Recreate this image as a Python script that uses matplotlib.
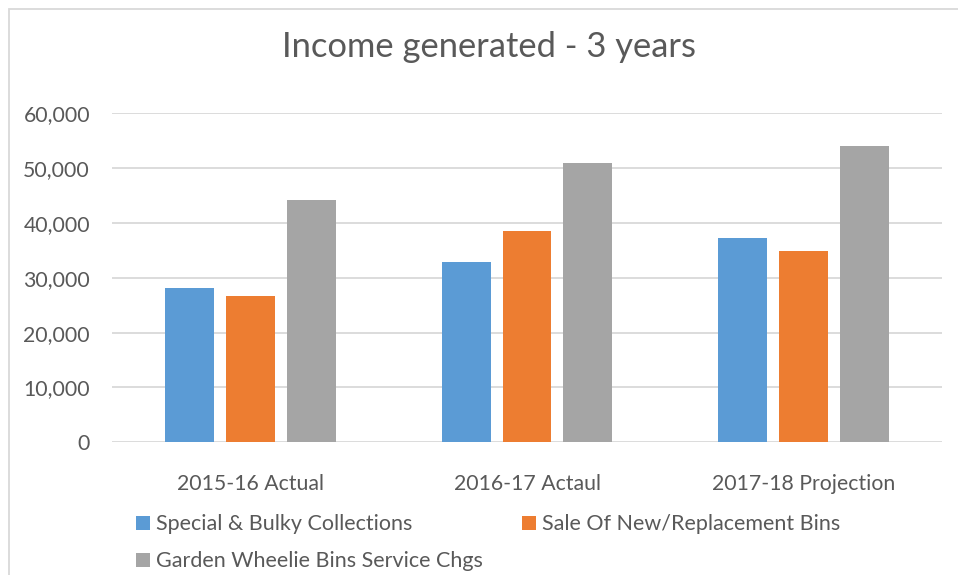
import matplotlib.pyplot as plt
import numpy as np
from matplotlib.patches import Rectangle, Patch

# data
categories = ['2015-16 Actual', '2016-17 Actaul', '2017-18 Projection']
series_names = ['Special & Bulky Collections', 'Sale Of New/Replacement Bins',
                'Garden Wheelie Bins Service Chgs']
special_bulky = [28150, 32900, 37250]
sale_bins = [26700, 38550, 34900]
garden_bins = [44200, 50950, 54050]
yticks = [0, 10000, 20000, 30000, 40000, 50000, 60000]

colors = ['#5B9BD5', '#ED7D31', '#A5A5A5']
txt = '#595959'
font = 'Lato'

W, H = 958, 575
fig = plt.figure(figsize=(W / 100, H / 100), dpi=100)
ax = fig.add_axes([112 / W, (H - 442.3) / H, 830 / W, 329 / H])

# chart area border (only top and left visible in the crop)
fig.patches.append(Rectangle((9 / W, -0.1), 1.2, (H - 9) / H + 0.1,
                             transform=fig.transFigure, fill=False,
                             edgecolor='#D9D9D9', linewidth=1.3))

x = np.arange(len(categories))
bw = 0.177
off = 0.220
for i, vals in enumerate([special_bulky, sale_bins, garden_bins]):
    ax.bar(x + (i - 1) * off, vals, width=bw, color=colors[i], zorder=3)

ax.set_xlim(-0.5, 2.5)
ax.set_ylim(0, 60000)
ax.set_yticks(yticks)
ax.set_yticklabels([f'{v:,}' for v in yticks], fontsize=15.3, color=txt, family=font)
ax.set_xticks(x)
ax.set_xticklabels(categories, fontsize=15.3, color=txt, family=font)
ax.tick_params(axis='both', length=0)
ax.tick_params(axis='y', pad=15.8)
ax.tick_params(axis='x', pad=22.5)
ax.grid(axis='y', color='#D9D9D9', linewidth=1.3, zorder=0)
for s in ax.spines.values():
    s.set_visible(False)

fig.text(489.5 / W, 1 - 47 / H, 'Income generated - 3 years', ha='center', va='center',
         fontsize=24.8, color=txt, family=font)

handles = [Patch(facecolor=c) for c in colors]
# reorder so the two-column legend fills row by row
order = [0, 2, 1]
leg = fig.legend([handles[i] for i in order], [series_names[i] for i in order],
                 ncol=2, loc='upper left', bbox_to_anchor=(136 / W, 1 - 514.5 / H),
                 frameon=False, fontsize=15.5, handlelength=0.65, handleheight=0.65,
                 handletextpad=0.28, columnspacing=1.81, labelspacing=0.78,
                 borderaxespad=0, borderpad=0)
for t in leg.get_texts():
    t.set_color(txt)
    t.set_family(font)

fig.savefig('out.png', dpi=100)
